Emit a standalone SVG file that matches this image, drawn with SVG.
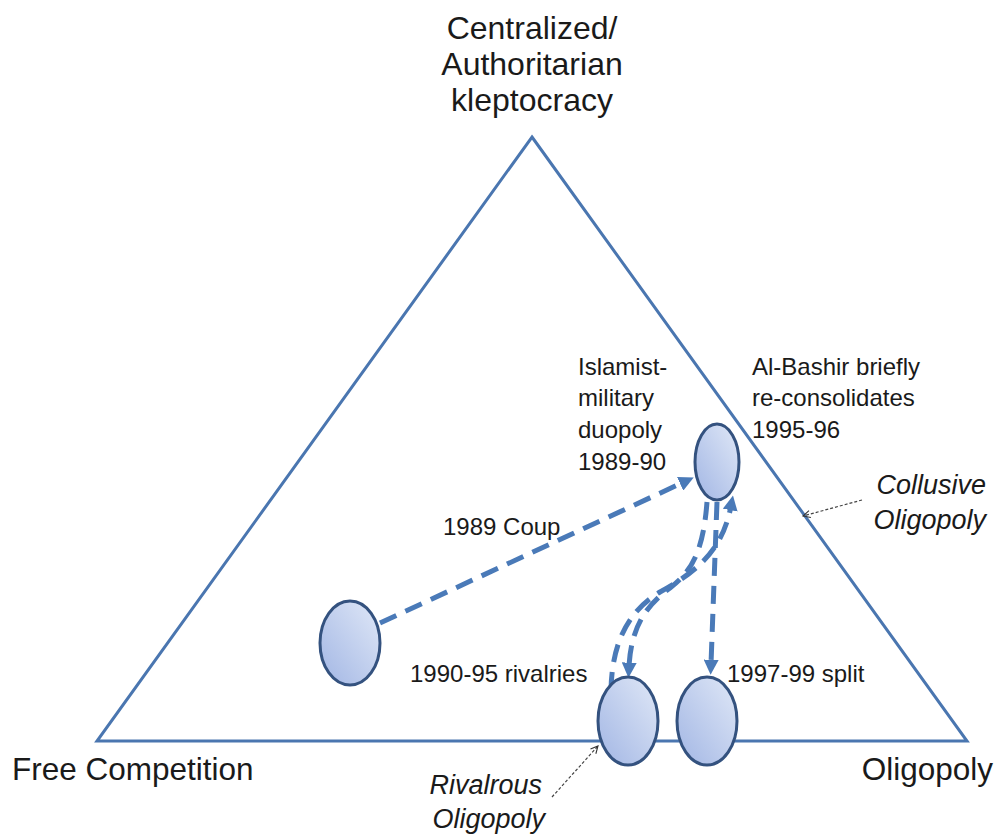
<svg xmlns="http://www.w3.org/2000/svg" width="997" height="837" viewBox="0 0 997 837">
  <defs>
    <linearGradient id="fillBlue" x1="0" y1="1" x2="1" y2="0">
      <stop offset="0" stop-color="#a2b6e4"/>
      <stop offset="1" stop-color="#e0e8f7"/>
    </linearGradient>
    <marker id="headSolid" viewBox="0 0 14 14" markerUnits="userSpaceOnUse" markerWidth="15" markerHeight="15" refX="4" refY="7" orient="auto">
      <path d="M0,0 L14,7 L0,14 z" fill="#4a7ab8"/>
    </marker>
    <marker id="headOpen" viewBox="0 0 10 10" markerUnits="userSpaceOnUse" markerWidth="9" markerHeight="9" refX="9" refY="5" orient="auto">
      <path d="M1,1 L9,5 L1,9" fill="none" stroke="#333" stroke-width="1.2"/>
    </marker>
  </defs>
  <style>
    .frame { fill: none; stroke: #4a76b0; stroke-width: 3; stroke-linejoin: miter; }
    .state { fill: url(#fillBlue); stroke: #34527f; stroke-width: 3; }
    .flow { fill: none; stroke: #4a7ab8; stroke-width: 5; stroke-dasharray: 18 10; marker-end: url(#headSolid); }
    .note { fill: none; stroke: #444; stroke-width: 1.2; stroke-dasharray: 3 2; marker-end: url(#headOpen); }
    text { font-family: "Liberation Sans", Arial, sans-serif; fill: #1a1a1a; }
    .big { font-size: 32px; }
    .mid { font-size: 27px; font-style: italic; }
    .small { font-size: 24px; }
  </style>

  <rect width="997" height="837" fill="#ffffff"/>

  <!-- triangle frame -->
  <g id="frame">
    <path class="frame" d="M532,137 L967,741 L97,741 Z"/>
  </g>

  <!-- corner labels -->
  <g id="apex-label">
    <text class="big" x="532" y="39" text-anchor="middle">Centralized/</text>
    <text class="big" x="532" y="75" text-anchor="middle">Authoritarian</text>
    <text class="big" x="532" y="111" text-anchor="middle">kleptocracy</text>
  </g>
  <g id="left-label">
    <text class="big" x="12" y="780" style="font-size:31.5px">Free Competition</text>
  </g>
  <g id="right-label">
    <text class="big" x="993" y="780" text-anchor="end" style="font-size:31.5px">Oligopoly</text>
  </g>

  <!-- connectors -->
  <g id="connectors">
    <path class="flow" d="M380,623 L684,482"/>
    <path class="flow" d="M717,502 L711,664"/>
    <path class="flow" d="M707,502 C703,555 690,572 670,588 C648,604 631,625 629,667"/>
    <path class="flow" d="M611,690 C612,640 630,610 660,592 C700,570 723,548 731,506"/>
    <path class="note" d="M862,500 L803,516"/>
    <path class="note" d="M552,797 L598,746"/>
  </g>

  <!-- states -->
  <g id="state-start">
    <ellipse class="state" cx="350" cy="643" rx="30" ry="42"/>
  </g>
  <g id="state-duopoly">
    <ellipse class="state" cx="717" cy="462" rx="22" ry="38"/>
  </g>
  <g id="state-rivalries">
    <ellipse class="state" cx="628" cy="721" rx="30" ry="44"/>
  </g>
  <g id="state-split">
    <ellipse class="state" cx="707" cy="721" rx="30" ry="44"/>
  </g>

  <!-- annotations -->
  <g id="label-duopoly">
    <text class="small" x="578" y="375">Islamist-</text>
    <text class="small" x="578" y="406">military</text>
    <text class="small" x="578" y="438">duopoly</text>
    <text class="small" x="578" y="470">1989-90</text>
  </g>
  <g id="label-bashir">
    <text class="small" x="752" y="375">Al-Bashir briefly</text>
    <text class="small" x="752" y="406">re-consolidates</text>
    <text class="small" x="752" y="438">1995-96</text>
  </g>
  <g id="label-coup">
    <text class="small" x="443" y="535">1989 Coup</text>
  </g>
  <g id="label-rivalries">
    <text class="small" x="410" y="682">1990-95 rivalries</text>
  </g>
  <g id="label-split">
    <text class="small" x="727" y="682">1997-99 split</text>
  </g>
  <g id="label-collusive">
    <text class="mid" x="986" y="494" text-anchor="end">Collusive</text>
    <text class="mid" x="986" y="529" text-anchor="end">Oligopoly</text>
  </g>
  <g id="label-rivalrous">
    <text class="mid" x="542" y="794" text-anchor="end">Rivalrous</text>
    <text class="mid" x="545" y="828" text-anchor="end">Oligopoly</text>
  </g>
</svg>
